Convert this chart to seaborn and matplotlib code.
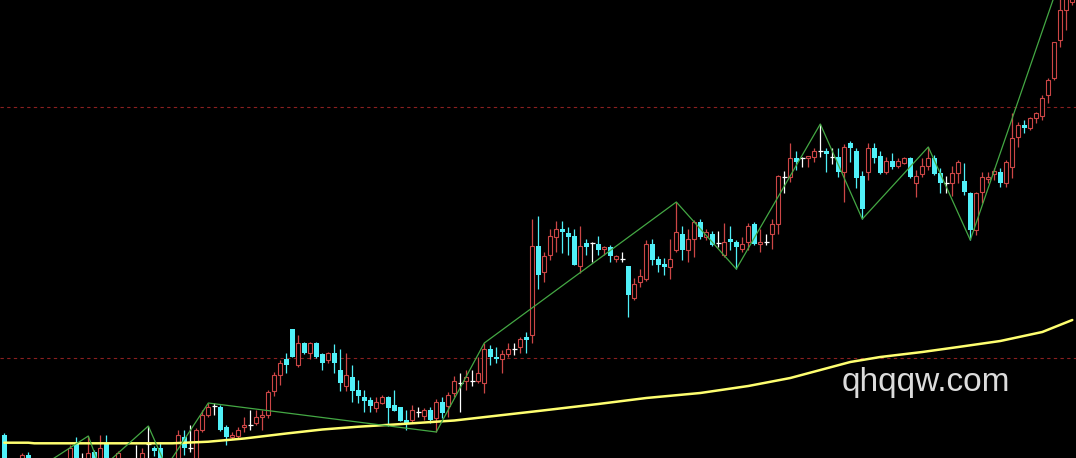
import numpy as np
import pandas as pd
import matplotlib
matplotlib.use("Agg")
import matplotlib.pyplot as plt
import seaborn as sns

# daily candles, oldest first (price units)
opens = [23, -6, -2, -10, 3, -3, -7, -7, -2, -6,
         -5, -4, 15, -4, -7, 6, -4, 14, -4, -8,
         -2, -8, -4, -4, 14, 10, 10, -2, -7, -4,
         21, 10, -4, 28, 43, 52, 51, 31, 21, 22,
         31, 33, 35, 41, 43, 67, 83, 99, 129, 93,
         115, 105, 115, 104, 98, 105, 88, 72, 81, 68,
         61, 58, 50, 55, 61, 53, 51, 38, 38, 46,
         42, 48, 40, 56, 52, 65, 75, 77, 77, 77,
         75, 109, 101, 99, 104, 109, 111, 121, 123, 212,
         186, 203, 221, 229, 225, 222, 192, 215, 215, 214,
         209, 211, 199, 199, 192, 160, 176, 179, 214, 199,
         194, 191, 208, 224, 208, 219, 236, 221, 224, 215,
         203, 219, 216, 209, 216, 234, 214, 216, 224, 234,
         281, 281, 300, 300, 300, 301, 307, 307, 301, 301,
         286, 315, 307, 282, 286, 310, 302, 286, 297, 292,
         295, 300, 275, 284, 292, 300, 285, 275, 275, 285,
         277, 265, 228, 266, 279, 284, 286, 275, 291, 321,
         333, 330, 340, 342, 363, 380, 418, 448, 456]
highs = [25, -1, -1, 5, 6, -1, -2, -1, -1, -1,
         -1, 13, 21, 5, 22, 8, 23, 23, -1, 7,
         -1, -1, 13, 10, 32, 12, 16, -1, -1, 28,
         28, 33, 30, 48, 55, 55, 53, 33, 26, 31,
         41, 48, 48, 48, 68, 86, 98, 105, 129, 123,
         116, 116, 116, 105, 106, 114, 109, 105, 93, 78,
         68, 61, 61, 63, 62, 68, 51, 48, 53, 51,
         50, 51, 59, 61, 66, 82, 85, 88, 88, 101,
         115, 113, 111, 108, 115, 115, 121, 126, 239, 242,
         206, 229, 237, 237, 231, 229, 232, 219, 216, 222,
         212, 213, 203, 206, 192, 180, 189, 218, 219, 202,
         200, 219, 256, 232, 229, 238, 239, 229, 227, 227,
         235, 232, 218, 221, 235, 236, 229, 224, 239, 283,
         287, 315, 307, 301, 302, 310, 334, 310, 310, 310,
         314, 317, 310, 287, 315, 315, 307, 301, 305, 300,
         301, 301, 288, 300, 311, 303, 290, 282, 292, 298,
         295, 266, 266, 286, 286, 290, 290, 298, 345, 336,
         338, 341, 346, 363, 380, 416, 463, 478, 514]
lows = [-17, -8, -7, -12, -15, -8, -9, -8, -8, -7,
        -6, -6, -6, -8, -9, -10, -10, -10, -14, -10,
        -10, -9, -8, -6, -4, 2, -8, -10, -8, -6,
        3, 6, -7, 26, 41, 43, 27, 13, 19, 20,
        26, 28, 33, 28, 40, 62, 73, 85, 101, 91,
        104, 99, 100, 88, 95, 85, 67, 67, 56, 55,
        46, 46, 46, 54, 32, 47, 37, 28, 35, 41,
        38, 35, 26, 40, 41, 61, 46, 68, 72, 75,
        65, 93, 95, 85, 101, 103, 105, 105, 115, 169,
        176, 198, 206, 205, 203, 193, 185, 203, 196, 203,
        203, 196, 196, 196, 141, 158, 171, 177, 193, 186,
        183, 179, 206, 198, 196, 201, 219, 218, 212, 211,
        201, 208, 189, 206, 208, 213, 206, 213, 209, 224,
        265, 276, 288, 291, 291, 296, 301, 286, 294, 281,
        256, 296, 270, 239, 278, 295, 284, 284, 289, 290,
        294, 280, 261, 281, 288, 283, 265, 265, 262, 275,
        263, 218, 223, 255, 275, 278, 271, 271, 280, 311,
        325, 328, 335, 338, 355, 378, 411, 428, 453]
closes = [-12, -2, -5, 3, -12, -6, -4, -2, -6, -2,
          -1, 10, -4, -4, 5, -8, 10, -8, -12, 5,
          -8, -2, -4, 5, 14, 7, -4, -8, -2, 23,
          10, 10, 28, 43, 51, 52, 28, 21, 23, 28,
          33, 33, 41, 43, 66, 83, 95, 93, 101, 115,
          105, 115, 101, 95, 105, 95, 75, 83, 67, 62,
          57, 52, 56, 61, 50, 47, 37, 35, 48, 46,
          48, 38, 56, 45, 63, 77, 75, 81, 77, 85,
          109, 101, 99, 104, 109, 109, 119, 118, 212, 183,
          202, 222, 229, 226, 221, 193, 212, 211, 215, 208,
          211, 202, 202, 199, 163, 174, 182, 214, 198, 193,
          191, 199, 226, 208, 219, 236, 221, 226, 213, 215,
          216, 216, 211, 214, 232, 214, 216, 216, 234, 282,
          281, 300, 296, 300, 302, 307, 307, 304, 301, 286,
          311, 310, 280, 249, 310, 300, 285, 297, 291, 297,
          300, 281, 282, 292, 300, 284, 275, 275, 285, 296,
          266, 228, 265, 281, 281, 287, 275, 296, 320, 333,
          330, 340, 345, 360, 378, 416, 448, 468, 508]

# long moving average (yellow) read at a few candles
ma_idx = [0, 4, 5, 28, 34, 40, 47, 53, 59, 65, 75, 89, 99, 107, 116,
          124, 131, 136, 141, 146, 153, 159, 166, 173, 178]
ma_val = [15.3, 15.3, 14.7, 14.7, 16.3, 19.5, 24.5, 28.5, 31.3, 33.5, 37.5,
          47, 54, 60, 65, 72, 80, 88, 96, 101, 106, 111, 117, 126, 138]

# zigzag turning points
zz_idx = [6, 14, 16, 24, 27, 34, 72, 80, 112, 122, 136, 143, 154, 161, 178]
zz_val = [-9, 22, -11, 32, -9, 55, 26, 115, 256, 189, 334, 239, 311, 218, 514]

grid_levels = [100, 351]

RED = "#cc4646"
CYAN = "#50f0f8"

df = pd.DataFrame({"open": opens, "high": highs, "low": lows, "close": closes})
df["idx"] = np.arange(len(df))
up = df[df.close > df.open]
down = df[df.close < df.open]
flat = df[df.close == df.open]

sns.set_theme(style="dark", rc={"axes.facecolor": "black",
                                "figure.facecolor": "black"})

fig, ax = plt.subplots(figsize=(10.76, 4.58), dpi=100)
fig.subplots_adjust(left=0, right=1, bottom=0, top=1)

# wicks
ax.vlines(up.idx, up.low, up.high, color=RED, lw=0.9, zorder=2)
ax.vlines(down.idx, down.low, down.high, color=CYAN, lw=0.9, zorder=2)
ax.vlines(flat.idx, flat.low, flat.high, color="white", lw=0.9, zorder=2)

# bodies: hollow red for up days, solid cyan for down days
ax.bar(up.idx, up.close - up.open, bottom=up.open, width=0.66,
       facecolor="black", edgecolor=RED, linewidth=0.8, zorder=3)
ax.bar(down.idx, down.open - down.close, bottom=down.close, width=0.8,
       color=CYAN, linewidth=0, zorder=3)
ax.hlines(flat.close, flat.idx - 0.4, flat.idx + 0.4, color="white",
          lw=0.9, zorder=3)

sns.lineplot(x=ma_idx, y=ma_val, ax=ax, color="#ffff70", lw=1.8, zorder=4)
sns.lineplot(x=zz_idx, y=zz_val, ax=ax, color="#44a844", lw=0.9, zorder=5)

ax.set_xlim(-0.72, 178.62)
ax.set_ylim(0, 458)
ax.set_yticks(grid_levels)
ax.set_xticks([])
ax.grid(True, axis="y", color="#8a2020", linestyle=(0, (3, 3)), lw=0.8)
ax.set_axisbelow(True)
ax.tick_params(length=0, labelleft=False, labelbottom=False)
for s in ax.spines.values():
    s.set_visible(False)

ax.text(0.8606, 0.1638, "qhqqw.com", transform=ax.transAxes,
        ha="center", va="center", color="#dcdcdc", fontsize=24,
        family="Liberation Sans", zorder=6)

fig.savefig("out.png", dpi=100, facecolor="black")
